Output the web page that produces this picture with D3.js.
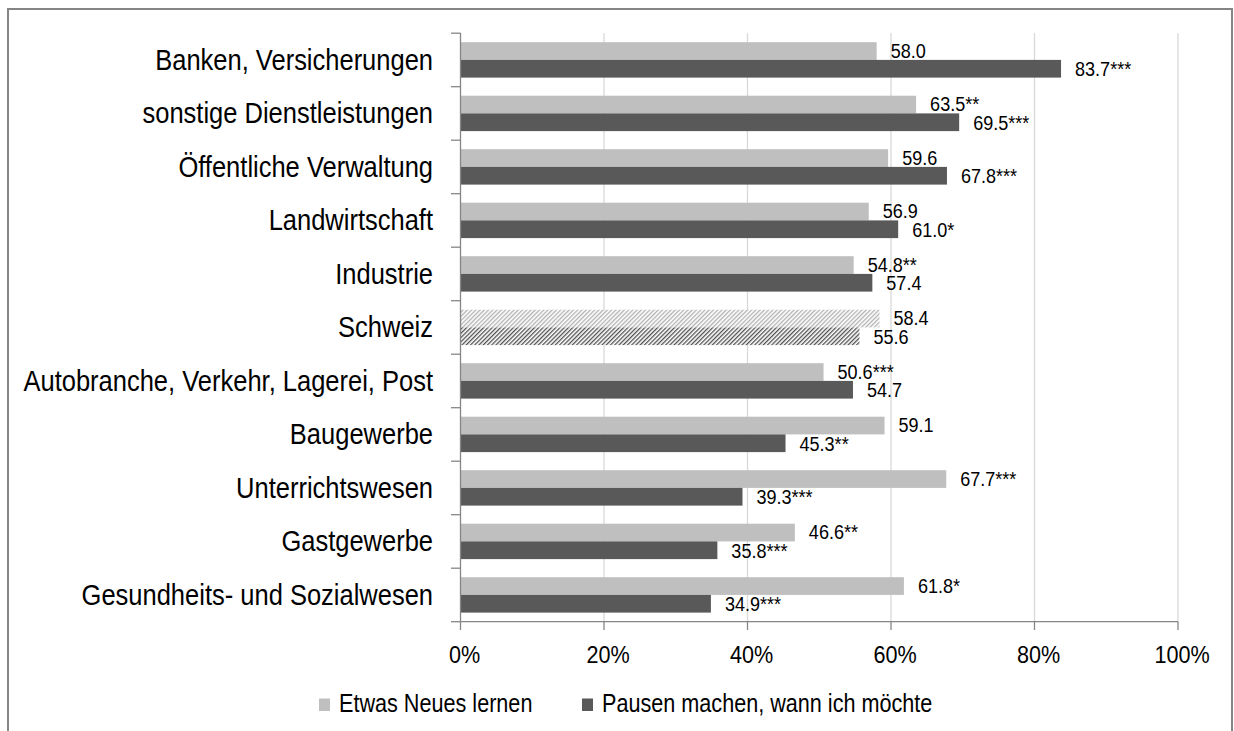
<!DOCTYPE html>
<html><head><meta charset="utf-8">
<script src="https://cdn.jsdelivr.net/npm/d3@7/dist/d3.min.js"></script>
<style>
body{margin:0;background:#fff;}
svg text{font-family:"Liberation Sans","Arial",sans-serif;fill:#000;}
</style></head>
<body><svg id="c" width="1234" height="731"></svg>
<script>
const categories = ["Banken, Versicherungen","sonstige Dienstleistungen","Öffentliche Verwaltung","Landwirtschaft","Industrie","Schweiz","Autobranche, Verkehr, Lagerei, Post","Baugewerbe","Unterrichtswesen","Gastgewerbe","Gesundheits- und Sozialwesen"];
const seriesNames = ["Etwas Neues lernen","Pausen machen, wann ich möchte"];
const lernen = [58.0,63.5,59.6,56.9,54.8,58.4,50.6,59.1,67.7,46.6,61.8];
const lernenSig = ["","**","","","**","","***","","***","**","*"];
const pausen = [83.7,69.5,67.8,61.0,57.4,55.6,54.7,45.3,39.3,35.8,34.9];
const pausenSig = ["***","***","***","*","","","","**","***","***","***"];
const xTicks = [0,20,40,60,80,100];
const highlight = "Schweiz";

const svg = d3.select("#c");
const defs = svg.append("defs");
function hatch(id,color){
  const p = defs.append("pattern").attr("id",id).attr("patternUnits","userSpaceOnUse")
    .attr("width",3).attr("height",3).attr("patternTransform","rotate(45)");
  p.append("rect").attr("width",3).attr("height",3).attr("fill","#fff");
  p.append("rect").attr("x",0).attr("y",0).attr("width",1.3).attr("height",3).attr("fill",color);
}
const colors = ["#bfbfbf","#595959"];
hatch("h0","#b0b0b0"); hatch("h1","#505050");

// squeezed text helper
function label(g, x, y, txt, size, sx, anchor){
  return g.append("text")
    .attr("transform",`translate(${x},${y}) scale(${sx},1)`)
    .attr("font-size",size).attr("text-anchor",anchor||"start").text(txt);
}

// frame
svg.append("path").attr("d","M8,740 V9 H1232 V740").attr("fill","none").attr("stroke","#858585").attr("stroke-width",2);

const x = d3.scaleLinear().domain([0,100]).range([460.5,1178]);
const y = d3.scaleBand().domain(categories).range([33.2,621.7]).padding(0);
const barH = 17.7, barOff = 9;

// gridlines
svg.append("g").selectAll("line").data(xTicks.slice(1)).join("line")
  .attr("x1",d=>x(d)).attr("x2",d=>x(d)).attr("y1",33).attr("y2",621.7)
  .attr("stroke","#d9d9d9").attr("stroke-width",1.3);

// bars
const series = [lernen,pausen];
const sigs = [lernenSig,pausenSig];
series.forEach((vals,si)=>{
  const g = svg.append("g");
  g.selectAll("rect").data(categories).join("rect")
    .attr("x",x(0)).attr("y",(c)=>y(c)+barOff+si*barH)
    .attr("width",(c,i)=>x(vals[i])-x(0)).attr("height",barH)
    .attr("fill",c=>c===highlight?`url(#h${si})`:colors[si]);
  const lg = svg.append("g");
  categories.forEach((c,i)=>{
    label(lg, x(vals[i])+14, y(c)+barOff+si*barH+barH/2+7.2 + (si===0?-0.5:0.5), vals[i].toFixed(1)+sigs[si][i], 20.5, 0.88);
  });
});

// y axis
const ya = svg.append("g");
ya.append("line").attr("x1",x(0)).attr("x2",x(0)).attr("y1",33).attr("y2",621.7).attr("stroke","#868686").attr("stroke-width",1.3);
const bounds = categories.map(c=>y(c)).concat([621.7]);
ya.selectAll("line.t").data(bounds).join("line").attr("class","t")
  .attr("x1",451).attr("x2",x(0)).attr("y1",d=>d).attr("y2",d=>d).attr("stroke","#868686").attr("stroke-width",1.3);
categories.forEach(c=>{
  label(ya, 433, y(c)+y.bandwidth()/2+10, c, 30, 0.85, "end");
});

// x axis
const xa = svg.append("g");
xa.append("line").attr("x1",x(0)).attr("x2",x(100)).attr("y1",621.7).attr("y2",621.7).attr("stroke","#868686").attr("stroke-width",1.3);
xa.selectAll("line.t").data(xTicks).join("line").attr("class","t")
  .attr("x1",d=>x(d)).attr("x2",d=>x(d)).attr("y1",621.7).attr("y2",630).attr("stroke","#868686").attr("stroke-width",1.3);
xTicks.forEach(d=>{
  label(xa, x(d)+4, 663, d+"%", 24, 0.9, "middle");
});

// legend
const lg = svg.append("g");
const lx = [319,582];
seriesNames.forEach((n,i)=>{
  lg.append("rect").attr("x",lx[i]).attr("y",698.5).attr("width",11).attr("height",12.5).attr("fill",colors[i]);
  label(lg, lx[i]+20, 711.5, n, 25, 0.865);
});
</script></body></html>
